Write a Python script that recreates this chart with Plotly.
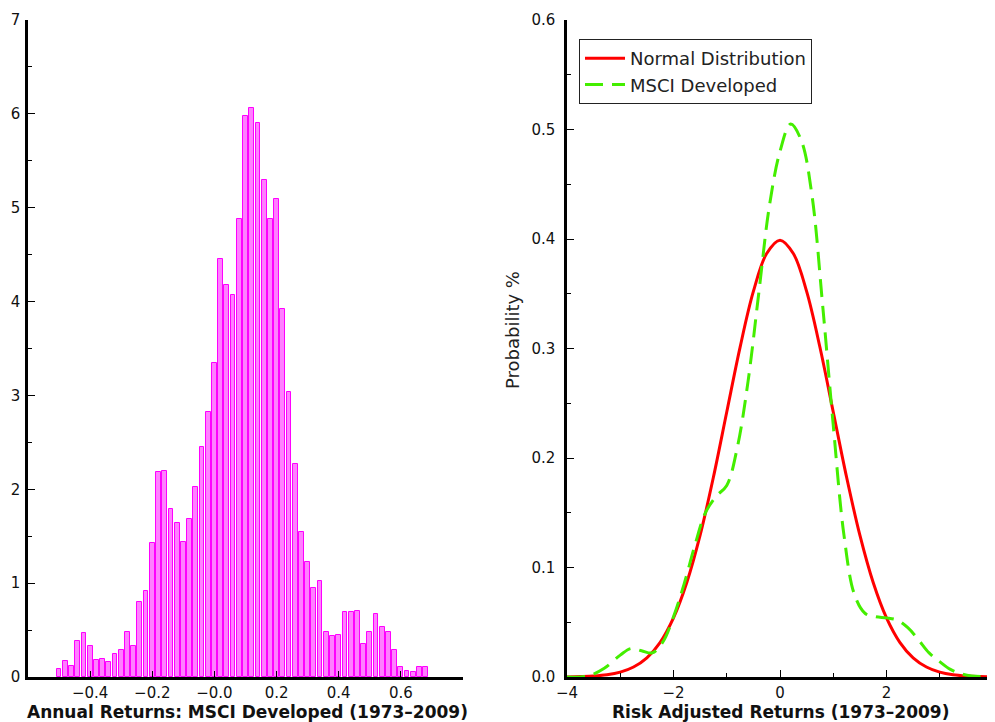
import plotly.graph_objects as go

# ---------------- data ----------------
bin_centers = [round(-0.50 + 0.02 * k, 2) for k in range(60)]
hist_pct = [0.09, 0.17, 0.12, 0.38, 0.47, 0.33, 0.18, 0.19, 0.16, 0.24,
            0.29, 0.48, 0.33, 0.80, 0.92, 1.43, 2.18, 2.19, 1.79, 1.64,
            1.44, 1.68, 2.02, 2.45, 2.82, 3.35, 4.45, 4.18, 4.07, 4.88,
            5.98, 6.06, 5.90, 5.30, 4.88, 5.09, 3.92, 3.04, 2.27, 1.55,
            1.23, 0.95, 1.02, 0.48, 0.44, 0.45, 0.69, 0.69, 0.70, 0.35,
            0.48, 0.67, 0.53, 0.48, 0.29, 0.11, 0.06, 0.05, 0.11, 0.11]

left_xticks = [-0.4, -0.2, 0.0, 0.2, 0.4, 0.6]
left_xticktext = ["\u22120.4", "\u22120.2", "\u22120.0", "0.2", "0.4", "0.6"]
left_yticks = [0, 1, 2, 3, 4, 5, 6, 7]

normal_x = [-4.0, -3.75, -3.5, -3.25, -3.0, -2.75, -2.5, -2.25, -2.0, -1.75,
            -1.5, -1.25, -1.0, -0.75, -0.5, -0.25, 0.0, 0.25, 0.5, 0.75,
            1.0, 1.25, 1.5, 1.75, 2.0, 2.25, 2.5, 2.75, 3.0, 3.25, 3.5,
            3.75, 4.0]
normal_y = [0.0001, 0.0004, 0.0009, 0.0020, 0.0044, 0.0091, 0.0175, 0.0317,
            0.0540, 0.0863, 0.1295, 0.1826, 0.2420, 0.3011, 0.3521, 0.3867,
            0.3989, 0.3867, 0.3521, 0.3011, 0.2420, 0.1826, 0.1295, 0.0863,
            0.0540, 0.0317, 0.0175, 0.0091, 0.0044, 0.0020, 0.0009, 0.0004,
            0.0001]

msci_x = [-4.0, -3.6, -3.3, -3.0, -2.8, -2.6, -2.4, -2.2, -2.0, -1.8, -1.6,
          -1.4, -1.2, -1.0, -0.8, -0.6, -0.4, -0.2, 0.0, 0.2, 0.4, 0.6, 0.8,
          1.0, 1.2, 1.4, 1.6, 1.8, 2.0, 2.2, 2.4, 2.6, 2.8, 3.0, 3.2, 3.4,
          3.6, 4.0]
msci_y = [0.0, 0.001, 0.008, 0.020, 0.026, 0.024, 0.022, 0.032, 0.055, 0.085,
          0.120, 0.150, 0.165, 0.175, 0.210, 0.270, 0.350, 0.430, 0.480, 0.505,
          0.490, 0.440, 0.340, 0.230, 0.130, 0.075, 0.058, 0.055, 0.054, 0.052,
          0.045, 0.034, 0.022, 0.014, 0.007, 0.003, 0.001, 0.0]

right_xticks = [-4, -2, 0, 2, 4]
right_xticktext = ["\u22124", "\u22122", "0", "2", "4"]
right_yticks = [0.0, 0.1, 0.2, 0.3, 0.4, 0.5, 0.6]

# ---------------- figure ----------------
OFF = 8                      # page body margin
W, H = 995 - OFF, 722 - OFF
FONT = "DejaVu Sans"


def px_x(p):
    return (p - OFF) / W


def px_y(p):
    return (H - (p - OFF)) / H


fig = go.Figure()

fig.add_trace(go.Bar(
    x=bin_centers, y=hist_pct, width=0.0155,
    marker=dict(color="#FF80FF", line=dict(color="#FF00FF", width=1)),
    xaxis="x", yaxis="y", showlegend=False,
))

fig.add_trace(go.Scatter(
    x=normal_x, y=normal_y, mode="lines", name="Normal Distribution",
    line=dict(color="#FF0000", width=3, shape="spline"),
    xaxis="x2", yaxis="y2",
))
fig.add_trace(go.Scatter(
    x=msci_x, y=msci_y, mode="lines", name="MSCI Developed",
    line=dict(color="#44EE00", width=3, shape="spline", dash="18px,9px"),
    xaxis="x2", yaxis="y2",
))

ydom = [px_y(677), px_y(20)]
axis_common = dict(
    showgrid=False, zeroline=False, showline=True, linecolor="black",
    linewidth=2.5, ticks="inside", tickcolor="black", tickwidth=1,
    mirror=False, automargin=False,
    tickfont=dict(family=FONT, size=15, color="#111111"),
)

fig.update_layout(
    width=W, height=H,
    margin=dict(l=0, r=0, t=0, b=0),
    paper_bgcolor="white", plot_bgcolor="white",
    bargap=0,
    xaxis=dict(domain=[px_x(28), px_x(463)], range=[-0.6, 0.8],
               tickvals=left_xticks, ticktext=left_xticktext, ticklen=6,
               anchor="y", **axis_common),
    yaxis=dict(domain=ydom, range=[0, 7], tickvals=left_yticks, ticklen=7,
               minor=dict(dtick=0.5, ticklen=4, ticks="inside", tickcolor="black"),
               anchor="x", ticklabelstandoff=2, **axis_common),
    xaxis2=dict(domain=[px_x(567), px_x(993)], range=[-4, 4],
                tickvals=right_xticks, ticktext=right_xticktext, ticklen=7,
                minor=dict(dtick=1, ticklen=4, ticks="inside", tickcolor="black"),
                anchor="y2", **axis_common),
    yaxis2=dict(domain=ydom, range=[0, 0.6], tickvals=right_yticks,
                tickformat=".1f", ticklen=7,
                minor=dict(dtick=0.05, ticklen=4, ticks="inside", tickcolor="black"),
                anchor="x2", ticklabelstandoff=6, **axis_common),
    legend=dict(x=px_x(579), y=px_y(39), xanchor="left", yanchor="top",
                bordercolor="#222222", borderwidth=1, bgcolor="white",
                font=dict(family=FONT, size=18, color="#222222"),
                itemwidth=40, tracegroupgap=0),
    annotations=[
        dict(text="<b>Annual Returns: MSCI Developed (1973\u20132009)</b>",
             x=px_x(247), y=px_y(712), xref="paper", yref="paper",
             xanchor="center", yanchor="middle", showarrow=False,
             font=dict(family=FONT, size=17, color="#111111")),
        dict(text="<b>Risk Adjusted Returns (1973\u20132009)</b>",
             x=px_x(780), y=px_y(712), xref="paper", yref="paper",
             xanchor="center", yanchor="middle", showarrow=False,
             font=dict(family=FONT, size=17, color="#111111")),
        dict(text="Probability %", textangle=-90,
             x=px_x(513), y=px_y(330), xref="paper", yref="paper",
             xanchor="center", yanchor="middle", showarrow=False,
             font=dict(family=FONT, size=18, color="#222222")),
    ],
)

fig.write_html("out.html")
